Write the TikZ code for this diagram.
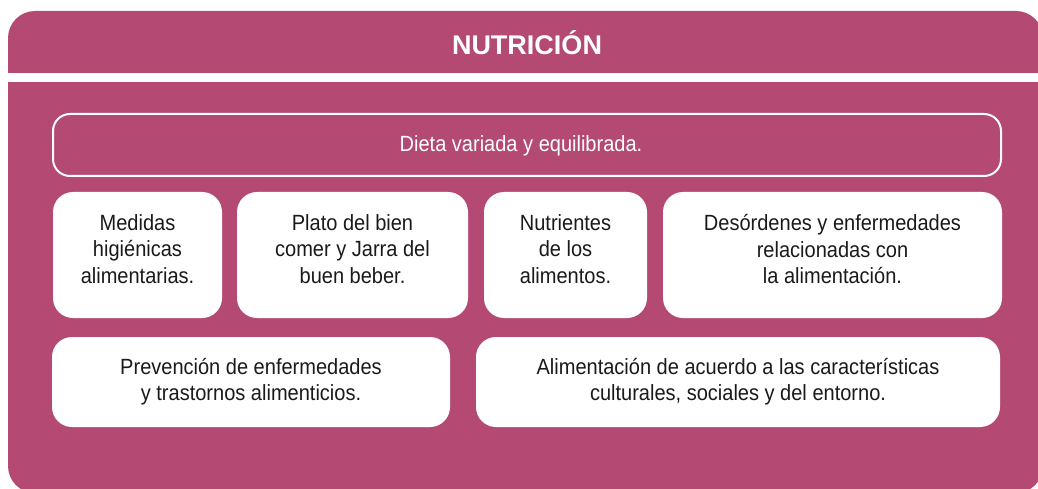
\documentclass[tikz,border=0pt]{standalone}
\usepackage{fontspec}
\newfontfamily\condfont[FakeStretch=0.91]{Liberation Sans}
\newfontfamily\titlefont{Liberation Sans}
\definecolor{magentabg}{HTML}{B44A74}
\definecolor{ink}{HTML}{1A1A1A}
\begin{document}
\begin{tikzpicture}[x=1pt,y=-1pt,
  card/.style={fill=white, draw=none, rounded corners=20pt, inner sep=0pt},
  outlinebox/.style={draw=white, line width=2pt, rounded corners=17pt, inner sep=0pt},
  txt/.style={font=\condfont\fontsize{22}{26.7}\selectfont, text=ink, inner sep=0pt, anchor=base},
  titletxt/.style={font=\titlefont\bfseries\fontsize{27}{32}\selectfont, text=white, inner sep=0pt, anchor=base},
]
\useasboundingbox (0,0) rectangle (1038,489);
% background panel
\fill[magentabg, rounded corners=27pt] (8,11) rectangle (1043,493);
\fill[white] (0,73) rectangle (1038,82);
% title
\node[titletxt] (title) at (527,55) {NUTRICIÓN};
% outlined bar
\node[outlinebox, minimum width=948pt, minimum height=62pt] (dietbox) at (527,145) {};
\node[txt, text=white] (diet) at (521,152) {Dieta variada y equilibrada.};
% row 1
\node[card, minimum width=169pt, minimum height=126pt] (b1) at (137.5,255) {};
\node[card, minimum width=231pt, minimum height=126pt] (b2) at (352.5,255) {};
\node[card, minimum width=163pt, minimum height=126pt] (b3) at (565.5,255) {};
\node[card, minimum width=339pt, minimum height=126pt] (b4) at (832.5,255) {};
\node[txt] (t1) at (137.5,230) {\begin{tabular}[t]{@{}c@{}}Medidas\\higiénicas\\alimentarias.\end{tabular}};
\node[txt] (t2) at (352.5,230) {\begin{tabular}[t]{@{}c@{}}Plato del bien\\comer y Jarra del\\buen beber.\end{tabular}};
\node[txt] (t3) at (565.5,230) {\begin{tabular}[t]{@{}c@{}}Nutrientes\\de los\\alimentos.\end{tabular}};
\node[txt] (t4) at (832.5,230.5) {\begin{tabular}[t]{@{}c@{}}Desórdenes y enfermedades\\relacionadas con\\la alimentación.\end{tabular}};
% row 2
\node[card, minimum width=398pt, minimum height=90pt] (b5) at (251,382) {};
\node[card, minimum width=524pt, minimum height=90pt] (b6) at (738,382) {};
\node[txt] (t5) at (251,374) {\begin{tabular}[t]{@{}c@{}}Prevención de enfermedades\\y trastornos alimenticios.\end{tabular}};
\node[txt] (t6) at (738,374) {\begin{tabular}[t]{@{}c@{}}Alimentación de acuerdo a las características\\culturales, sociales y del entorno.\end{tabular}};
\end{tikzpicture}
\end{document}
